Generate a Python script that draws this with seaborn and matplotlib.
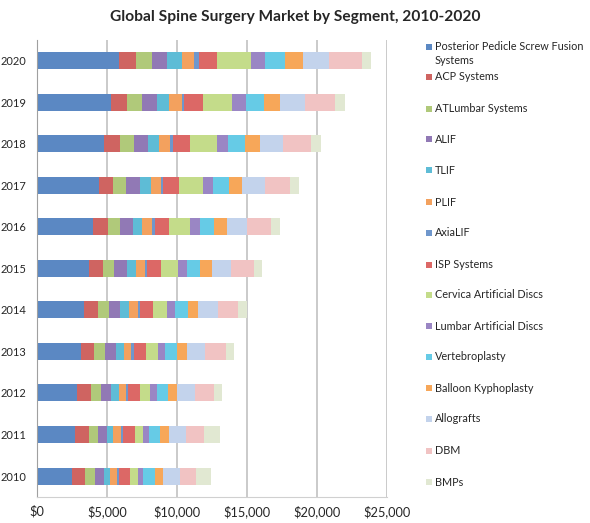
import numpy as np
import pandas as pd
import matplotlib
matplotlib.use('Agg')
import matplotlib.pyplot as plt
from matplotlib.patches import Rectangle
from matplotlib.ticker import FuncFormatter, FixedLocator
import seaborn as sns

years = ['2010', '2011', '2012', '2013', '2014', '2015', '2016', '2017', '2018', '2019', '2020']

# segment values, $ millions, 2010..2020
posterior = [2520, 2710, 2880, 3120, 3360, 3670, 4020, 4400, 4790, 5310, 5880]
acp = [910, 960, 950, 950, 1020, 1000, 1050, 1030, 1140, 1140, 1190]
atlumbar = [710, 710, 740, 790, 760, 830, 860, 950, 970, 1050, 1140]
alif = [600, 640, 720, 740, 790, 900, 900, 980, 1050, 1050, 1100]
tlif = [470, 430, 540, 570, 620, 650, 690, 740, 790, 900, 1020]
plif = [480, 550, 530, 570, 620, 640, 720, 760, 760, 880, 880]
axialif = [150, 150, 150, 150, 150, 150, 150, 150, 190, 170, 360]
isp = [800, 850, 850, 920, 990, 990, 1060, 1160, 1240, 1330, 1310]
cervical_discs = [530, 590, 710, 810, 1000, 1220, 1480, 1660, 1930, 2120, 2380]
lumbar_discs = [380, 410, 480, 520, 570, 640, 670, 740, 810, 950, 1050]
vertebroplasty = [860, 790, 830, 880, 910, 950, 1040, 1120, 1190, 1290, 1380]
kyphoplasty = [570, 640, 600, 670, 730, 840, 910, 980, 1070, 1170, 1330]
allografts = [1260, 1210, 1310, 1310, 1380, 1380, 1430, 1590, 1670, 1780, 1860]
dbm = [1120, 1310, 1350, 1500, 1480, 1640, 1730, 1810, 1970, 2120, 2310]
bmps = [1070, 1120, 570, 550, 620, 600, 620, 640, 690, 720, 640]

segments = ['Posterior Pedicle Screw Fusion\nSystems', 'ACP Systems', 'ATLumbar Systems',
            'ALIF', 'TLIF', 'PLIF', 'AxiaLIF', 'ISP Systems', 'Cervica Artificial Discs',
            'Lumbar Artificial Discs', 'Vertebroplasty', 'Balloon Kyphoplasty',
            'Allografts', 'DBM', 'BMPs']
series = [posterior, acp, atlumbar, alif, tlif, plif, axialif, isp, cervical_discs,
          lumbar_discs, vertebroplasty, kyphoplasty, allografts, dbm, bmps]
colors = ['#5b88c3', '#cf6461', '#b0c97a', '#9179b5', '#5ebcd6', '#f3a15e',
          '#6f97cc', '#dc6866', '#c4dc8a', '#9a86c4', '#66cbe6', '#f7a759',
          '#c3d3ec', '#f1c3c3', '#e1e8d2']

sns.set_style('white')
plt.rcParams['font.family'] = ['Lato', 'DejaVu Sans']

df = pd.DataFrame(dict(zip(segments, series)), index=years)
cum = df.cumsum(axis=1)
order = years[::-1]

W, H = 590, 523
fig = plt.figure(figsize=(W / 100, H / 100), dpi=100)
ax = fig.add_axes([0.063, 0.05, 0.593, 0.874])

# stacked bars: draw running totals, largest first
for seg, col in reversed(list(zip(segments, colors))):
    d = pd.DataFrame({'year': years, 'value': cum[seg].values})
    sns.barplot(data=d, x='value', y='year', order=order, orient='h',
                color=col, width=0.41, saturation=1, ax=ax, edgecolor='none')

ax.set_xlim(0, 25000)
ax.set_ylim(len(years) - 0.5, -0.5)
ax.xaxis.set_major_locator(FixedLocator([0, 5000, 10000, 15000, 20000, 25000]))
ax.xaxis.set_major_formatter(FuncFormatter(lambda v, p: '${:,.0f}'.format(v)))
ax.set_xlabel('')
ax.set_ylabel('')
ax.grid(axis='x', color='#bcbcbc', linewidth=1.1)
ax.set_axisbelow(True)
for s in ['top', 'right']:
    ax.spines[s].set_visible(False)
ax.spines['left'].set_color('#a0a0a0')
ax.spines['bottom'].set_color('#d0d0d0')
ax.tick_params(axis='x', length=0, labelsize=9.2, pad=6)
ax.tick_params(axis='y', length=0, labelsize=8, pad=8)
ax.set_yticks(np.arange(-0.5, len(years), 1), minor=True)
ax.tick_params(axis='y', which='minor', length=4, color='#a0a0a0')

fig.text(0.5, 1 - 17 / H, 'Global Spine Surgery Market by Segment, 2010-2020',
         ha='center', va='center', fontsize=11.2, fontweight='bold')

# legend, placed by hand to follow the original spacing (pixel rows)
leg_y = [47, 77, 109, 139, 170, 202, 233, 265, 295, 326, 357, 388, 419, 451, 482]
for lab, col, yy in zip(segments, colors, leg_y):
    fig.patches.append(Rectangle((426 / W, 1 - (yy + 3) / H), 6 / W, 6 / H,
                                 transform=fig.transFigure, facecolor=col,
                                 edgecolor='none'))
    if '\n' in lab:
        # two lines: hang from the top so the first line sits next to the swatch
        fig.text(435 / W, 1 - (yy - 6) / H, lab, ha='left', va='top',
                 fontsize=7.8, linespacing=1.35)
    else:
        fig.text(435 / W, 1 - yy / H, lab, ha='left', va='center', fontsize=7.8)

fig.savefig('out.png', dpi=100)
